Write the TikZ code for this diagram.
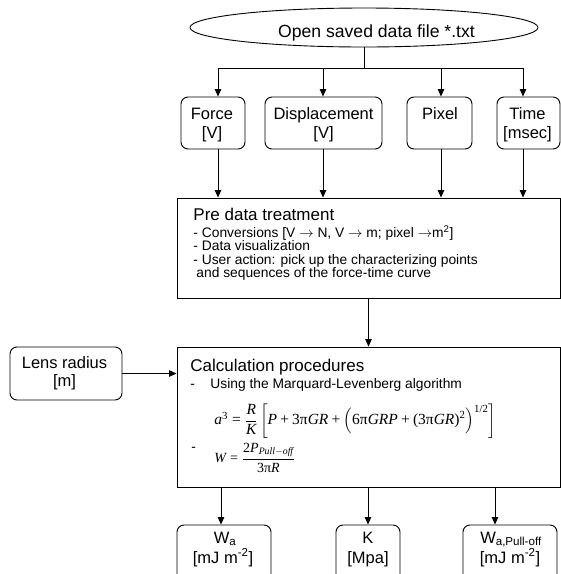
\documentclass[tikz,border=0pt]{standalone}
\usepackage{fontspec}
\usepackage{amsmath}
\setmainfont{Liberation Sans}
\newfontfamily\tmsfont{Liberation Serif}
\usetikzlibrary{arrows.meta,shapes.geometric}
\newcommand{\mi}[1]{\text{\tmsfont\itshape #1}}
\newcommand{\mup}[1]{\text{\tmsfont #1}}
\begin{document}
\begin{tikzpicture}[x=1pt,y=-1pt,line width=0.9pt,
  arr/.style={-{Triangle[length=7.5pt,width=6.5pt]}},
  rbox/.style={draw,rounded corners=7pt,inner sep=0pt},
  sqbox/.style={draw,inner sep=0pt},
  bigtxt/.style={font=\fontsize{17}{20}\selectfont},
  midtxt/.style={font=\fontsize{16.5}{19}\selectfont},
  smalltxt/.style={font=\fontsize{13.8}{14}\selectfont},
  txt/.style={inner sep=0pt,anchor=base},
  wtxt/.style={inner sep=0pt,anchor=base west}]
\useasboundingbox (0,0) rectangle (561,574);
\clip (0,0) rectangle (561,574);

% start ellipse
\node[draw,ellipse,minimum width=348pt,minimum height=39pt,inner sep=0pt] (ell) at (364,27.5) {};
\node[txt,font=\fontsize{17.6}{20}\selectfont] (elltxt) at (376.5,37) {Open saved data file *.txt};

% bus
\coordinate (b1) at (218,68);
\coordinate (b2) at (323,68);
\coordinate (b3) at (441,68);
\coordinate (b4) at (523,68);

% input boxes
\node[rbox,minimum width=64pt,minimum height=52pt] (force) at (213,123) {};
\node[rbox,minimum width=117pt,minimum height=52pt] (disp) at (323.5,123) {};
\node[rbox,minimum width=65pt,minimum height=52pt] (pixel) at (439.5,123) {};
\node[rbox,minimum width=63pt,minimum height=52pt] (time) at (528.5,123) {};
\node[txt,midtxt] (forcet1) at (212,119) {Force};
\node[txt,midtxt] (forcet2) at (212,138) {[V]};
\node[txt,midtxt] (dispt1) at (323.5,119) {Displacement};
\node[txt,midtxt] (dispt2) at (323.5,138) {[V]};
\node[txt,midtxt] (pixelt1) at (440,119) {Pixel};
\node[txt,midtxt] (timet1) at (527.5,119) {Time};
\node[txt,midtxt] (timet2) at (527.5,138) {[msec]};

% pre data treatment
\node[sqbox,minimum width=383pt,minimum height=100pt] (pre) at (368.5,248) {};
\node[wtxt,bigtxt] (pret) at (193,220) {Pre data treatment};
\node[wtxt,smalltxt] (pre1) at (193,237.5) {- Conversions [V $\rightarrow$ N, V $\rightarrow$ m; pixel $\rightarrow$m\textsuperscript{2}]};
\node[wtxt,smalltxt] (pre2) at (193,250.8) {- Data visualization};
\node[wtxt,smalltxt] (pre3) at (193,264.1) {- User action: pick up the characterizing points};
\node[wtxt,smalltxt] (pre4) at (196,277.4) {and sequences of the force-time curve};

% lens radius
\node[rbox,minimum width=112pt,minimum height=53pt] (lens) at (66,373.5) {};
\node[txt,midtxt] (lenst1) at (64.5,368) {Lens radius};
\node[txt,midtxt] (lenst2) at (64.5,386) {[m]};

% calculation procedures
\node[sqbox,minimum width=383pt,minimum height=140pt] (calc) at (368.5,417) {};
\node[wtxt,bigtxt] (calct) at (190,371) {Calculation procedures};
\node[wtxt,smalltxt] (calcd1) at (190,388.5) {-};
\node[wtxt,smalltxt] (calc1) at (210,388.5) {Using the Marquard-Levenberg algorithm};
\node[inner sep=0pt,anchor=west,font=\fontsize{15.5}{19}\selectfont] (eq1) at (214,421)
  {$\mi{a}^{\mup{3}} \mathrel{\mup{=}} \dfrac{\mi{R}}{\mi{K}}\,\biggl[\mi{P} \mathbin{\mup{+}} \mup{3π}\mi{GR} \mathbin{\mup{+}} \Bigl(\mup{6π}\mi{GRP} \mathbin{\mup{+}} \mup{(3π}\mi{GR}\mup{)}^{\mup{2}}\Bigr)^{\mup{1/2}}\biggr]$};
\node[wtxt,smalltxt] (calcd2) at (191,451) {-};
\node[inner sep=0pt,anchor=west,font=\fontsize{14}{17}\selectfont] (eq2) at (214,458)
  {$\mi{W} \mathrel{\mup{=}} \dfrac{\mup{2}\mi{P}_{\mi{Pull}-\mi{off}}}{\mup{3π}\mi{R}}$};

% outputs
\node[rbox,minimum width=94pt,minimum height=75pt] (wa) at (224,562.5) {};
\node[rbox,minimum width=64pt,minimum height=75pt] (kk) at (368,562.5) {};
\node[rbox,minimum width=94pt,minimum height=75pt] (wap) at (510,562.5) {};
\node[txt,midtxt] (wat1) at (225,543) {W\textsubscript{a}};
\node[txt,midtxt] (wat2) at (223,563) {[mJ m\textsuperscript{-2}]};
\node[txt,midtxt] (kt1) at (368,543) {K};
\node[txt,midtxt] (kt2) at (368,563) {[Mpa]};
\node[txt,midtxt] (wapt1) at (511,543) {W\textsubscript{a,Pull-off}};
\node[txt,midtxt] (wapt2) at (510,563) {[mJ m\textsuperscript{-2}]};
\coordinate (o1) at (221,0);
\coordinate (o2) at (368,0);
\coordinate (o3) at (495,0);

% connectors
\draw (ell.south) -- (ell.south |- b1);
\draw (b1) -- (b4);
\draw[arr] (b1) -- (b1 |- force.north);
\draw[arr] (b2) -- (b2 |- disp.north);
\draw[arr] (b3) -- (b3 |- pixel.north);
\draw[arr] (b4) -- (b4 |- time.north);
\draw[arr] (b1 |- force.south) -- (b1 |- pre.north);
\draw[arr] (b2 |- disp.south) -- (b2 |- pre.north);
\draw[arr] (b3 |- pixel.south) -- (b3 |- pre.north);
\draw[arr] (b4 |- time.south) -- (b4 |- pre.north);
\draw[arr] (pre.south) -- (calc.north);
\draw[arr] (lens.east) -- (lens.east -| calc.west);
\draw[arr] (o1 |- calc.south) -- (o1 |- wa.north);
\draw[arr] (o2 |- calc.south) -- (o2 |- kk.north);
\draw[arr] (o3 |- calc.south) -- (o3 |- wap.north);
\end{tikzpicture}
\end{document}
